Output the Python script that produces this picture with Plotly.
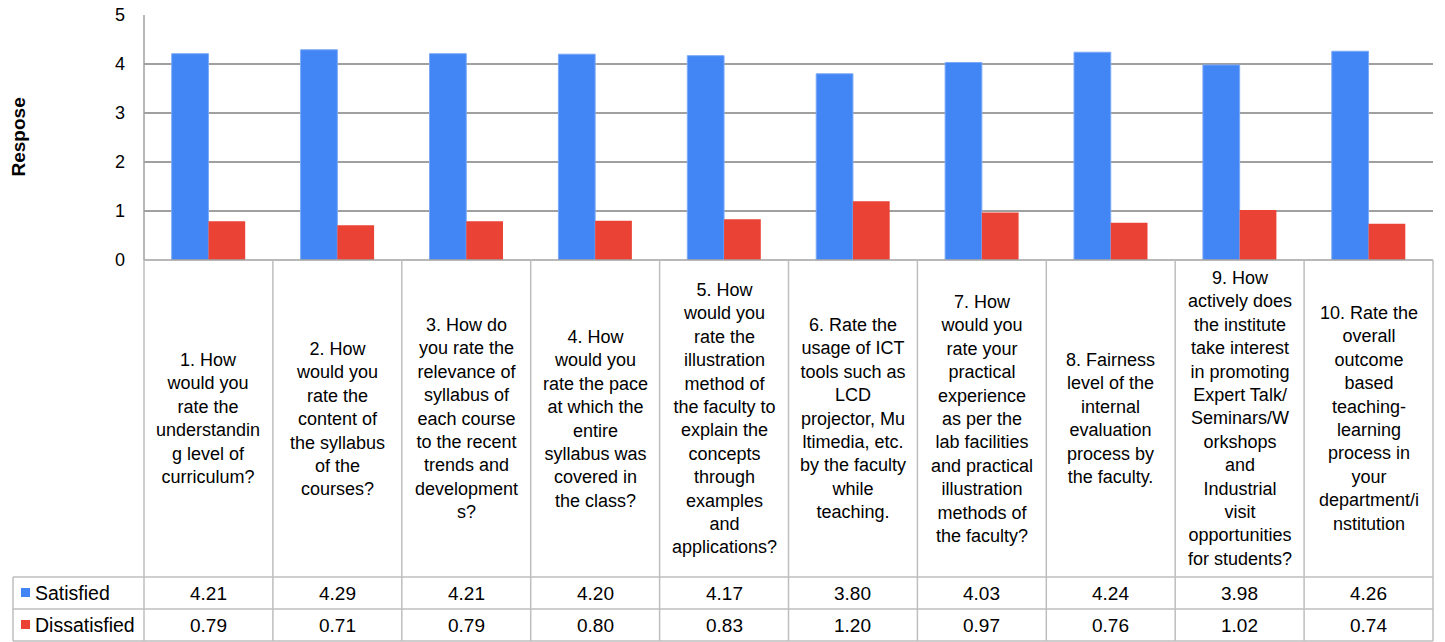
import plotly.graph_objects as go

# ---------------- data ----------------
categories = [
    "1. How<br>would you<br>rate the<br>understandin<br>g level of<br>curriculum?",
    "2. How<br>would you<br>rate the<br>content of<br>the syllabus<br>of the<br>courses?",
    "3. How do<br>you rate the<br>relevance of<br>syllabus of<br>each course<br>to the recent<br>trends and<br>development<br>s?",
    "4. How<br>would you<br>rate the pace<br>at which the<br>entire<br>syllabus was<br>covered in<br>the class?",
    "5. How<br>would you<br>rate the<br>illustration<br>method of<br>the faculty to<br>explain the<br>concepts<br>through<br>examples<br>and<br>applications?",
    "6. Rate the<br>usage of ICT<br>tools such as<br>LCD<br>projector, Mu<br>ltimedia, etc.<br>by the faculty<br>while<br>teaching.",
    "7. How<br>would you<br>rate your<br>practical<br>experience<br>as per the<br>lab facilities<br>and practical<br>illustration<br>methods of<br>the faculty?",
    "8. Fairness<br>level of the<br>internal<br>evaluation<br>process by<br>the faculty.",
    "9. How<br>actively does<br>the institute<br>take interest<br>in promoting<br>Expert Talk/<br>Seminars/W<br>orkshops<br>and<br>Industrial<br>visit<br>opportunities<br>for students?",
    "10. Rate the<br>overall<br>outcome<br>based<br>teaching-<br>learning<br>process in<br>your<br>department/i<br>nstitution",
]
satisfied = [4.21, 4.29, 4.21, 4.20, 4.17, 3.80, 4.03, 4.24, 3.98, 4.26]
dissatisfied = [0.79, 0.71, 0.79, 0.80, 0.83, 1.20, 0.97, 0.76, 1.02, 0.74]
series_names = ["Satisfied", "Dissatisfied"]
y_ticks = [0, 1, 2, 3, 4, 5]
y_title = "Respose"

# ---------------- styling / layout ----------------
BLUE = "#4285F4"
RED = "#EA4335"
GRID = "#A0A0A0"
TABLE = "#BEBEBE"
FONT = "Liberation Sans, Arial, sans-serif"
FS = 18

W, H = 1445, 642
L, R, T, B = 144, 12, 15, 382
plot_w = W - L - R
plot_h = H - T - B


def px(xpix):
    return (xpix - L) / plot_w


def py(ypix):
    return (H - B - ypix) / plot_h


n = len(categories)
xs = list(range(n))

fig = go.Figure()
fig.add_trace(go.Bar(x=xs, y=satisfied, name=series_names[0],
                     marker=dict(color=BLUE, line=dict(color="#7AA9F7", width=1))))
fig.add_trace(go.Bar(x=xs, y=dissatisfied, name=series_names[1],
                     marker=dict(color=RED, line=dict(color="#EF6A5F", width=0))))

# table geometry (pixels)
top_y = H - B          # 260
label_bottom = 577
row1_bottom = 609
row2_bottom = 641
legend_left = 13

shapes = []
line_style = dict(color=TABLE, width=1.5)
for yy in [label_bottom, row1_bottom, row2_bottom]:
    shapes.append(dict(type="line", xref="paper", yref="paper",
                       x0=px(legend_left), x1=1, y0=py(yy), y1=py(yy), line=line_style))
shapes.append(dict(type="line", xref="paper", yref="paper",
                   x0=0, x1=1, y0=0, y1=0, line=dict(color=GRID, width=1.5)))
for i in range(n + 1):
    shapes.append(dict(type="line", xref="paper", yref="paper",
                       x0=i / n, x1=i / n, y0=0, y1=py(row2_bottom), line=line_style))
shapes.append(dict(type="line", xref="paper", yref="paper",
                   x0=px(legend_left), x1=px(legend_left),
                   y0=py(label_bottom), y1=py(row2_bottom), line=line_style))
shapes.append(dict(type="line", xref="paper", yref="paper",
                   x0=0, x1=0, y0=0, y1=1, line=dict(color=GRID, width=1.5)))

row_centers = [(label_bottom + row1_bottom) / 2, (row1_bottom + row2_bottom) / 2]
for color, yc in zip([BLUE, RED], row_centers):
    shapes.append(dict(type="rect", xref="paper", yref="paper",
                       x0=px(21), x1=px(30), y0=py(yc - 5), y1=py(yc + 4),
                       fillcolor=color, line=dict(width=0)))

annotations = []
label_mid = (top_y + label_bottom) / 2
for i, cat in enumerate(categories):
    annotations.append(dict(x=i, xref="x", y=py(label_mid), yref="paper",
                            text=cat, showarrow=False, align="center",
                            xanchor="center", yanchor="middle",
                            font=dict(family=FONT, size=FS, color="#000000")))
for vals, yc in zip([satisfied, dissatisfied], row_centers):
    for i, v in enumerate(vals):
        annotations.append(dict(x=i, xref="x", y=py(yc), yref="paper",
                                text=f"{v:.2f}", showarrow=False,
                                xanchor="center", yanchor="middle",
                                font=dict(family=FONT, size=19, color="#000000")))
for name, yc in zip(series_names, row_centers):
    annotations.append(dict(x=px(33), xref="paper", y=py(yc), yref="paper",
                            text=name, showarrow=False,
                            xanchor="left", yanchor="middle",
                            font=dict(family=FONT, size=19.5, color="#000000")))
annotations.append(dict(x=px(18), xref="paper", y=0.5, yref="paper",
                        text=f"<b>{y_title}</b>", showarrow=False, textangle=-90,
                        xanchor="center", yanchor="middle",
                        font=dict(family=FONT, size=19, color="#000000")))

fig.update_layout(
    width=W, height=H,
    margin=dict(l=L, r=R, t=T, b=B, pad=0, autoexpand=False),
    paper_bgcolor="white", plot_bgcolor="white",
    barmode="group", bargap=0.43, bargroupgap=0,
    showlegend=False,
    hovermode=False,
    shapes=shapes,
    annotations=annotations,
    font=dict(family=FONT, size=FS, color="#000000"),
    xaxis=dict(range=[-0.5, n - 0.5], showticklabels=False, showgrid=False,
               zeroline=False, showline=False, ticks="", automargin=False),
    yaxis=dict(range=[0, 5], tickvals=y_ticks, showgrid=True, gridcolor=GRID,
               gridwidth=1.5, zeroline=False, showline=False, ticks="",
               ticklabelstandoff=18, automargin=False,
               tickfont=dict(family=FONT, size=FS, color="#000000")),
)

fig.write_html("out.html", config={"displayModeBar": False},
               post_script="document.body.style.margin='0';document.body.style.overflow='hidden';")
